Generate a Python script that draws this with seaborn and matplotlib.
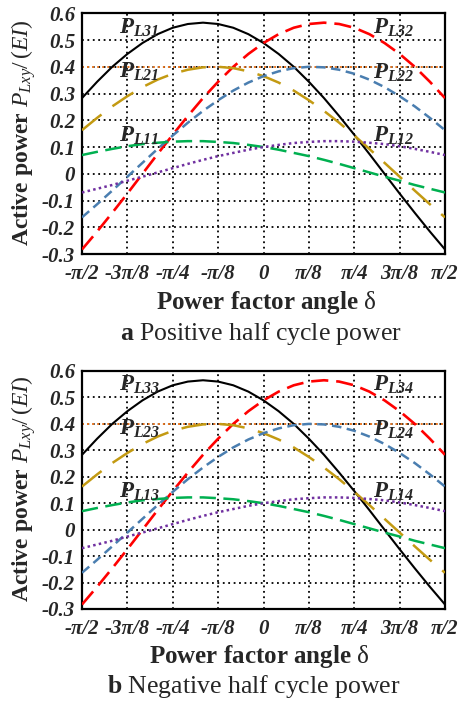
import numpy as np
import pandas as pd
import matplotlib
matplotlib.use("Agg")
import matplotlib.pyplot as plt
import seaborn as sns

# Power factor angle samples (degrees)
delta_deg = [-90, -82.5, -75, -67.5, -60, -52.5, -45, -37.5, -30, -22.5, -15, -7.5, 0,
             7.5, 15, 22.5, 30, 37.5, 45, 52.5, 60, 67.5, 75, 82.5, 90]

# Normalised active power P_Lxy / (EI) for each leg
p_l3_left = [0.283, 0.344, 0.400, 0.448, 0.489, 0.522, 0.546, 0.560, 0.565, 0.560, 0.546, 0.522, 0.489,
             0.448, 0.400, 0.344, 0.283, 0.216, 0.146, 0.074, 0.000, -0.074, -0.146, -0.216, -0.283]
p_l3_right = [-0.283, -0.216, -0.146, -0.074, 0.000, 0.074, 0.146, 0.216, 0.283, 0.344, 0.400, 0.448, 0.489,
              0.522, 0.546, 0.560, 0.565, 0.560, 0.546, 0.522, 0.489, 0.448, 0.400, 0.344, 0.283]
p_l2_left = [0.163, 0.209, 0.252, 0.290, 0.324, 0.352, 0.374, 0.389, 0.398, 0.400, 0.395, 0.383, 0.365,
             0.341, 0.311, 0.275, 0.235, 0.191, 0.143, 0.093, 0.041, -0.011, -0.063, -0.114, -0.163]
p_l2_right = [-0.163, -0.114, -0.063, -0.011, 0.041, 0.093, 0.143, 0.191, 0.235, 0.275, 0.311, 0.341, 0.365,
              0.383, 0.395, 0.400, 0.398, 0.389, 0.374, 0.352, 0.324, 0.290, 0.252, 0.209, 0.163]
p_l1_left = [0.070, 0.082, 0.093, 0.103, 0.111, 0.116, 0.120, 0.122, 0.122, 0.119, 0.115, 0.108, 0.100,
             0.090, 0.078, 0.066, 0.052, 0.037, 0.021, 0.005, -0.011, -0.026, -0.042, -0.056, -0.070]
p_l1_right = [-0.070, -0.056, -0.042, -0.026, -0.011, 0.005, 0.021, 0.037, 0.052, 0.066, 0.078, 0.090, 0.100,
              0.108, 0.115, 0.119, 0.122, 0.122, 0.120, 0.116, 0.111, 0.103, 0.093, 0.082, 0.070]
rated_level = 0.4

x_tick_pi = [-0.5, -0.375, -0.25, -0.125, 0.0, 0.125, 0.25, 0.375, 0.5]
x_tick_labels = ["-\u03c0/2", "-3\u03c0/8", "-\u03c0/4", "-\u03c0/8", "0",
                 "\u03c0/8", "\u03c0/4", "3\u03c0/8", "\u03c0/2"]
y_ticks = [-0.3, -0.2, -0.1, 0.0, 0.1, 0.2, 0.3, 0.4, 0.5, 0.6]
y_tick_labels = ["-0.3", "-0.2", "-0.1", "0", "0.1", "0.2", "0.3", "0.4", "0.5", "0.6"]

labels_a = ["L31", "L32", "L21", "L22", "L11", "L12"]
labels_b = ["L33", "L34", "L23", "L24", "L13", "L14"]

sns.set_theme(style="white")
plt.rcParams.update({
    "font.family": ["Liberation Serif", "DejaVu Serif"],
    "mathtext.fontset": "custom",
    "mathtext.rm": "Liberation Serif",
    "mathtext.it": "Liberation Serif:italic",
    "mathtext.bf": "Liberation Serif:bold",
    "mathtext.bfit": "Liberation Serif:italic:bold",
    "mathtext.sf": "Liberation Serif",
})

delta = np.array(delta_deg) * np.pi / 180.0
series = [
    (p_l3_left, "black", "-", 1.5),
    (p_l3_right, "#ff0000", (0, (6.5, 3.0)), 1.9),
    (p_l2_left, "#c39a12", (0, (10.0, 5.5)), 1.8),
    (p_l2_right, "#4a7eb0", (0, (3.8, 2.2)), 1.8),
    (p_l1_left, "#00b050", (0, (6.5, 3.0)), 1.8),
    (p_l1_right, "#7030a0", (0, (1.0, 1.3)), 1.8),
]

# label anchor positions (delta in rad, value) for each curve tag
tag_pos = [(-1.249, 0.525), (0.946, 0.525), (-1.249, 0.358), (0.946, 0.357),
           (-1.249, 0.120), (0.946, 0.119)]

fig = plt.figure(figsize=(4.62, 7.03), dpi=100)
W, H = 462.0, 703.0


def draw_panel(ax, tags, caption, xlab_x, cap_x, cap_y):
    for vals, color, ls, lw in series:
        df = pd.DataFrame({"delta": delta, "p": vals})
        sns.lineplot(data=df, x="delta", y="p", ax=ax, color=color,
                     linestyle=ls, linewidth=lw, zorder=3)
    ax.axhline(rated_level, color="#e87722", linestyle=(0, (1.0, 1.6)), linewidth=1.4, zorder=2)

    ax.set_xlim(-np.pi / 2, np.pi / 2)
    ax.set_ylim(-0.3, 0.6)
    ax.set_xticks(np.array(x_tick_pi) * np.pi)
    ax.set_xticklabels(x_tick_labels)
    ax.set_yticks(y_ticks)
    ax.set_yticklabels(y_tick_labels)
    for lab in ax.get_xticklabels() + ax.get_yticklabels():
        lab.set_fontweight("bold")
        lab.set_fontstyle("italic")
        lab.set_fontsize(15)
    ax.tick_params(axis="x", length=0, pad=7)
    ax.tick_params(axis="y", length=0, pad=5)
    ax.set_xlabel("")
    ax.set_ylabel("")
    ax.grid(True, color="black", linestyle=(0, (1.0, 2.0)), linewidth=1.3, zorder=1)
    for sp in ax.spines.values():
        sp.set_color("black")
        sp.set_linewidth(1.6)
        sp.set_visible(True)
    ax.set_axisbelow(True)

    for tag, (tx, ty) in zip(tags, tag_pos):
        ax.text(tx, ty, r"$\mathbfit{P}_{\mathbfit{%s}}$" % tag, fontsize=16.5,
                ha="left", va="baseline", zorder=5)

    ax.text(-0.160, 0.505, r"Active power $P_{Lxy}/\,(EI)$", transform=ax.transAxes,
            rotation=90, ha="center", va="center", fontsize=17, fontweight="bold")
    ax.text(xlab_x, -0.228, r"Power factor angle $\mathrm{\delta}$", transform=ax.transAxes,
            ha="center", va="baseline", fontsize=18, fontweight="bold")
    fig.text(cap_x, cap_y, caption, ha="center", va="baseline", fontsize=18.5)


ax_a = fig.add_axes([82 / W, 1 - 254 / H, 363 / W, 240.7 / H])
ax_b = fig.add_axes([82 / W, 1 - 609 / H, 363 / W, 238 / H])

draw_panel(ax_a, labels_a, r"$\mathbf{a}$ Positive half cycle power", 0.507, 261 / W, 1 - 340 / H)
draw_panel(ax_b, labels_b, r"$\mathbf{b}$ Negative half cycle power", 0.489, 254 / W, 1 - 693 / H)

fig.savefig("out.png", dpi=100)
